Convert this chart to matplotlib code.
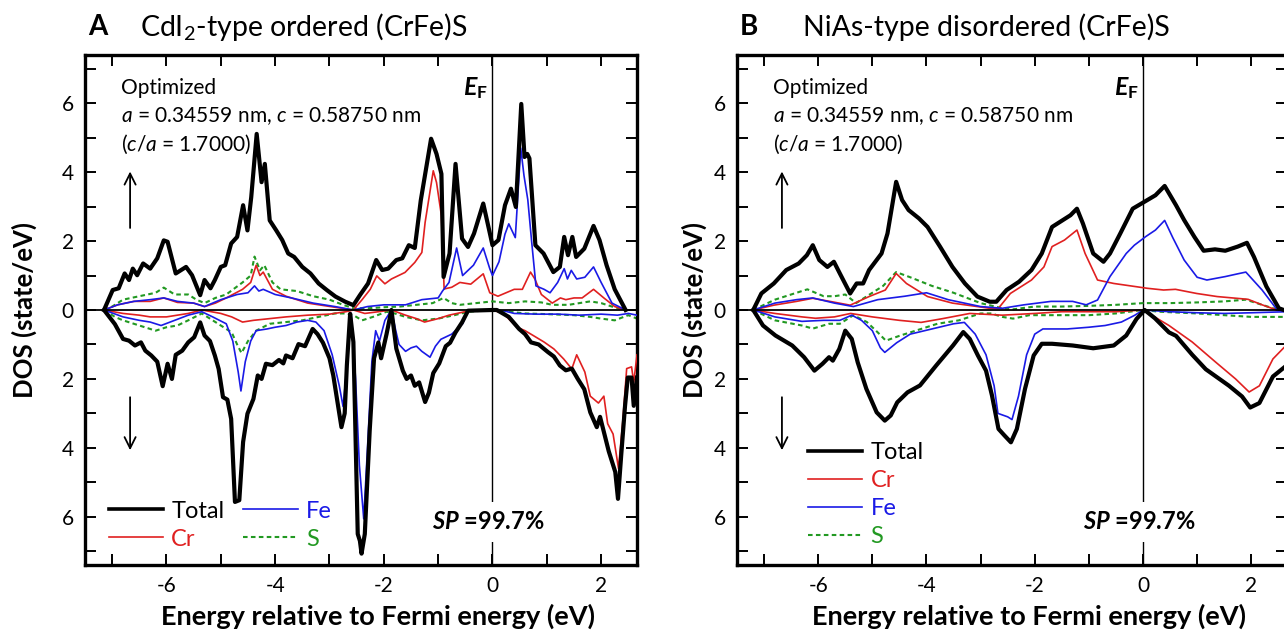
import matplotlib
matplotlib.use("Agg")
import matplotlib.pyplot as plt
from matplotlib.ticker import MultipleLocator, FixedLocator, FixedFormatter
from matplotlib.lines import Line2D

plt.rcParams['font.family'] = ['Lato', 'DejaVu Sans']
plt.rcParams['axes.unicode_minus'] = False
plt.rcParams['mathtext.fontset'] = 'custom'
plt.rcParams['mathtext.rm'] = 'Lato'
plt.rcParams['mathtext.it'] = 'Lato:italic'
plt.rcParams['mathtext.bf'] = 'Lato:bold'
try:
    plt.rcParams['mathtext.bfit'] = 'Lato:italic:bold'
    HAS_BFIT = True
except Exception:
    HAS_BFIT = False

# ---------------- Panel A: CdI2-type ordered (CrFe)S ----------------
A_tot_up_E = [-7.15, -6.99, -6.88, -6.77, -6.69, -6.62, -6.54, -6.43, -6.3, -6.17, -6.05, -5.98, -5.83, -5.64, -5.53, -5.38, -5.3, -5.19, -5.11, -5.0, -4.92, -4.81, -4.7, -4.59, -4.51, -4.44, -4.34, -4.25, -4.19, -4.1, -3.98, -3.87, -3.76, -3.65, -3.5, -3.35, -3.2, -3.05, -2.89, -2.71, -2.56, -2.44, -2.29, -2.14, -2.03, -1.92, -1.77, -1.66, -1.54, -1.43, -1.32, -1.13, -1.03, -0.94, -0.9, -0.79, -0.68, -0.56, -0.45, -0.34, -0.17, -0.06, 0.0, 0.11, 0.23, 0.34, 0.43, 0.53, 0.59, 0.64, 0.68, 0.79, 0.94, 1.12, 1.24, 1.32, 1.39, 1.47, 1.54, 1.69, 1.86, 1.97, 2.1, 2.25, 2.45]
A_tot_up = [0, 0.58, 0.63, 1.06, 0.87, 1.2, 1.01, 1.35, 1.2, 1.5, 2.02, 1.98, 1.06, 1.25, 1.01, 0.43, 0.87, 0.63, 0.87, 1.25, 1.3, 1.93, 2.12, 3.04, 2.31, 3.28, 5.11, 3.71, 4.24, 2.6, 2.31, 2.03, 1.64, 1.54, 1.25, 1.06, 0.77, 0.58, 0.39, 0.24, 0.14, 0.43, 0.77, 1.45, 1.16, 1.2, 1.45, 1.5, 1.88, 1.8, 3.18, 4.97, 4.53, 3.95, 0.96, 1.64, 4.24, 2.07, 1.83, 2.22, 3.09, 2.31, 1.88, 2.03, 3.04, 3.52, 2.99, 5.98, 4.44, 4.53, 4.4, 1.88, 1.64, 1.1, 1.25, 2.12, 1.59, 2.12, 1.54, 1.78, 2.44, 2.03, 1.3, 0.6, 0.0]

A_cr_up_E = [-7.15, -6.9, -6.6, -6.3, -6.05, -5.8, -5.5, -5.3, -5.1, -4.9, -4.6, -4.45, -4.35, -4.28, -4.22, -4.05, -3.8, -3.4, -2.9, -2.56, -2.4, -2.25, -2.13, -1.98, -1.86, -1.61, -1.43, -1.3, -1.24, -1.09, -1.03, -0.94, -0.89, -0.75, -0.6, -0.4, -0.17, -0.05, 0.1, 0.25, 0.4, 0.55, 0.7, 0.78, 0.9, 1.1, 1.25, 1.35, 1.5, 1.65, 1.86, 2.05, 2.25, 2.45]
A_cr_up = [0, 0.15, 0.25, 0.25, 0.35, 0.22, 0.2, 0.1, 0.2, 0.35, 0.6, 0.8, 1.3, 1.0, 1.1, 0.6, 0.4, 0.2, 0.08, 0.0, 0.3, 0.6, 0.99, 0.76, 0.9, 1.09, 1.38, 1.67, 2.54, 4.04, 3.7, 2.74, 0.61, 0.66, 0.8, 0.75, 1.05, 0.5, 0.4, 0.5, 0.6, 0.6, 1.1, 0.9, 0.45, 0.2, 0.35, 0.3, 0.35, 0.35, 0.6, 0.35, 0.1, 0.0]

A_fe_up_E = [-7.15, -6.9, -6.6, -6.3, -6.05, -5.8, -5.5, -5.3, -5.0, -4.7, -4.5, -4.38, -4.3, -4.22, -4.0, -3.7, -3.3, -2.9, -2.56, -2.3, -2.0, -1.6, -1.3, -1.0, -0.92, -0.8, -0.66, -0.55, -0.35, -0.17, -0.05, 0.0, 0.12, 0.23, 0.3, 0.42, 0.52, 0.58, 0.65, 0.72, 0.8, 0.95, 1.06, 1.2, 1.32, 1.38, 1.45, 1.55, 1.7, 1.86, 2.0, 2.2, 2.45]
A_fe_up = [0, 0.15, 0.25, 0.3, 0.35, 0.25, 0.2, 0.1, 0.3, 0.45, 0.5, 0.7, 0.55, 0.6, 0.45, 0.35, 0.2, 0.1, 0.0, 0.1, 0.15, 0.15, 0.3, 0.35, 0.55, 0.8, 1.8, 1.0, 1.3, 1.8, 1.2, 1.0, 1.4, 2.2, 2.5, 2.1, 4.7, 3.9, 3.2, 2.0, 0.7, 0.6, 0.5, 0.8, 1.2, 0.9, 1.15, 0.9, 0.95, 1.25, 0.8, 0.2, 0.0]

A_s_up_E = [-7.15, -7.0, -6.8, -6.5, -6.2, -6.05, -5.85, -5.6, -5.45, -5.3, -5.1, -4.9, -4.6, -4.45, -4.38, -4.28, -4.2, -4.05, -3.9, -3.6, -3.3, -3.0, -2.75, -2.56, -2.3, -2.0, -1.7, -1.4, -1.1, -0.9, -0.75, -0.6, -0.3, 0.0, 0.3, 0.6, 0.9, 1.1, 1.4, 1.8, 2.0, 2.2, 2.45]
A_s_up = [0, 0.1, 0.3, 0.4, 0.5, 0.65, 0.45, 0.45, 0.3, 0.2, 0.35, 0.45, 0.8, 1.0, 1.55, 1.15, 1.3, 0.8, 0.6, 0.55, 0.4, 0.3, 0.15, 0.05, 0.05, 0.08, 0.1, 0.15, 0.2, 0.35, 0.2, 0.15, 0.2, 0.25, 0.2, 0.25, 0.22, 0.15, 0.15, 0.25, 0.2, 0.1, 0.0]

A_tot_dn_E = [-7.15, -6.95, -6.8, -6.69, -6.58, -6.47, -6.39, -6.28, -6.17, -6.07, -5.98, -5.9, -5.83, -5.71, -5.6, -5.49, -5.38, -5.3, -5.2, -5.11, -5.04, -4.96, -4.88, -4.81, -4.74, -4.66, -4.59, -4.51, -4.4, -4.32, -4.25, -4.17, -4.05, -3.93, -3.85, -3.8, -3.68, -3.57, -3.45, -3.31, -3.22, -3.12, -3.0, -2.93, -2.86, -2.78, -2.72, -2.68, -2.62, -2.56, -2.48, -2.44, -2.41, -2.35, -2.26, -2.18, -2.1, -2.05, -1.95, -1.86, -1.77, -1.65, -1.58, -1.5, -1.43, -1.35, -1.24, -1.17, -1.09, -0.98, -0.86, -0.78, -0.68, -0.56, -0.45, 0.0, 0.08, 0.3, 0.49, 0.6, 0.71, 0.85, 1.02, 1.13, 1.24, 1.35, 1.46, 1.57, 1.69, 1.8, 1.92, 1.98, 2.06, 2.14, 2.26, 2.31, 2.37, 2.44, 2.49, 2.56, 2.6, 2.66]
A_tot_dn = [0, 0.41, 0.84, 0.89, 1.03, 0.94, 1.18, 1.32, 1.5, 2.21, 1.56, 2.0, 1.3, 1.18, 0.94, 0.79, 0.36, 0.74, 0.9, 1.32, 1.71, 2.53, 2.6, 3.16, 5.57, 5.52, 3.83, 3.01, 2.58, 1.9, 2.0, 1.56, 1.6, 1.45, 1.55, 1.32, 1.4, 0.99, 1.05, 0.55, 0.7, 0.95, 1.4, 1.9, 2.6, 3.4, 3.0, 1.6, 0.11, 0.93, 6.5, 6.7, 7.07, 6.5, 3.5, 1.4, 0.94, 1.4, 0.7, 0.0, 1.12, 1.76, 2.0, 1.9, 2.2, 2.1, 2.67, 2.4, 1.83, 1.55, 1.05, 0.95, 0.65, 0.36, 0.02, 0.0, 0.0, 0.2, 0.55, 0.7, 0.94, 1.0, 1.22, 1.35, 1.61, 1.75, 1.7, 2.0, 2.3, 2.97, 3.4, 3.1, 3.6, 4.1, 4.7, 5.48, 4.2, 2.78, 1.96, 1.96, 2.78, 1.96]

A_cr_dn_E = [-7.15, -6.8, -6.5, -6.3, -6.0, -5.8, -5.6, -5.35, -5.0, -4.8, -4.6, -4.4, -4.1, -3.8, -3.4, -3.0, -2.7, -2.56, -2.35, -2.1, -1.86, -1.6, -1.4, -1.25, -1.0, -0.8, -0.45, 0.0, 0.2, 0.45, 0.6, 0.76, 0.95, 1.13, 1.31, 1.46, 1.55, 1.7, 1.8, 1.95, 2.05, 2.12, 2.22, 2.32, 2.4, 2.47, 2.56, 2.6, 2.66]
A_cr_dn = [0, 0.1, 0.15, 0.2, 0.2, 0.15, 0.1, 0.0, 0.1, 0.2, 0.35, 0.3, 0.25, 0.2, 0.15, 0.12, 0.05, 0.0, 0.1, 0.05, 0.0, 0.15, 0.25, 0.35, 0.25, 0.15, 0.03, 0.0, 0.1, 0.5, 0.6, 0.75, 0.93, 1.13, 1.42, 1.71, 1.3, 1.8, 2.5, 2.7, 2.5, 3.3, 3.6, 4.6, 3.2, 1.7, 1.65, 2.1, 1.3]

A_fe_dn_E = [-7.15, -6.8, -6.5, -6.3, -6.1, -5.85, -5.6, -5.35, -5.15, -4.9, -4.78, -4.68, -4.63, -4.55, -4.45, -4.35, -4.15, -4.0, -3.8, -3.6, -3.4, -3.25, -3.1, -2.95, -2.82, -2.75, -2.7, -2.64, -2.6, -2.52, -2.45, -2.37, -2.3, -2.22, -2.15, -2.08, -1.98, -1.86, -1.78, -1.72, -1.6, -1.5, -1.4, -1.3, -1.15, -1.05, -0.95, -0.75, -0.55, -0.45, 0.0, 0.2, 0.4, 0.8, 1.2, 1.6, 2.0, 2.3, 2.5, 2.66]
A_fe_dn = [0, 0.2, 0.3, 0.35, 0.45, 0.3, 0.15, 0.05, 0.2, 0.4, 0.9, 1.8, 2.35, 1.5, 0.9, 0.6, 0.55, 0.5, 0.45, 0.35, 0.3, 0.35, 0.6, 1.3, 2.2, 2.8, 2.0, 0.5, 0.1, 2.0, 4.5, 6.06, 4.0, 1.5, 0.6, 0.9, 0.3, 0.0, 0.6, 1.0, 1.2, 1.1, 1.05, 1.2, 1.37, 1.05, 0.85, 0.7, 0.4, 0.0, 0.0, 0.02, 0.1, 0.12, 0.12, 0.15, 0.12, 0.15, 0.1, 0.15]

A_s_dn_E = [-7.15, -6.95, -6.8, -6.5, -6.2, -6.0, -5.8, -5.6, -5.35, -5.15, -4.95, -4.8, -4.7, -4.62, -4.5, -4.35, -4.1, -3.8, -3.5, -3.2, -2.9, -2.7, -2.56, -2.4, -2.2, -1.95, -1.8, -1.6, -1.3, -1.0, -0.7, -0.45, 0.0, 0.3, 0.6, 1.0, 1.5, 1.8, 2.0, 2.25, 2.5, 2.66]
A_s_dn = [0, 0.2, 0.3, 0.45, 0.6, 0.5, 0.45, 0.3, 0.1, 0.3, 0.5, 0.65, 1.0, 1.25, 0.9, 0.6, 0.4, 0.35, 0.3, 0.2, 0.1, 0.1, 0.15, 0.3, 0.2, 0.05, 0.1, 0.2, 0.3, 0.25, 0.15, 0.05, 0.0, 0.05, 0.1, 0.12, 0.15, 0.2, 0.25, 0.3, 0.15, 0.25]

# ---------------- Panel B: NiAs-type disordered (CrFe)S ----------------
B_tot_up_E = [-7.2, -7.05, -6.82, -6.59, -6.36, -6.21, -6.1, -5.98, -5.83, -5.71, -5.6, -5.41, -5.29, -5.17, -5.06, -4.83, -4.72, -4.56, -4.45, -4.33, -4.14, -3.98, -3.75, -3.52, -3.29, -3.06, -2.83, -2.71, -2.52, -2.29, -2.06, -1.87, -1.68, -1.49, -1.34, -1.22, -1.11, -0.92, -0.73, -0.61, -0.42, -0.19, 0.08, 0.23, 0.4, 0.61, 0.76, 0.95, 1.12, 1.33, 1.52, 1.75, 1.92, 2.05, 2.28, 2.51, 2.6]
B_tot_up = [0, 0.48, 0.77, 1.16, 1.35, 1.59, 1.88, 1.45, 1.25, 1.4, 1.06, 0.48, 0.77, 0.77, 1.16, 1.64, 2.22, 3.72, 3.19, 2.9, 2.66, 2.41, 1.84, 1.25, 0.77, 0.39, 0.24, 0.24, 0.58, 0.82, 1.16, 1.64, 2.41, 2.6, 2.75, 2.94, 2.51, 1.64, 1.4, 1.64, 2.22, 2.94, 3.19, 3.33, 3.6, 3.04, 2.61, 2.12, 1.72, 1.76, 1.72, 1.84, 1.95, 1.54, 0.68, 0.05, 0.0]

B_cr_up_E = [-7.2, -6.82, -6.4, -6.1, -5.75, -5.41, -5.06, -4.76, -4.56, -4.37, -3.98, -3.52, -2.83, -2.67, -2.45, -2.06, -1.83, -1.68, -1.45, -1.22, -1.07, -0.84, -0.54, 0.08, 0.38, 0.6, 0.99, 1.37, 1.94, 2.2, 2.47]
B_cr_up = [0, 0.14, 0.25, 0.34, 0.24, 0.14, 0.39, 0.58, 1.06, 0.77, 0.39, 0.2, 0.05, 0.05, 0.48, 0.87, 1.25, 1.84, 2.03, 2.32, 1.64, 0.87, 0.77, 0.63, 0.58, 0.6, 0.48, 0.39, 0.31, 0.15, 0.0]

B_fe_up_E = [-7.2, -6.8, -6.4, -6.1, -5.7, -5.35, -4.9, -4.4, -4.0, -3.6, -3.0, -2.6, -2.2, -1.7, -1.3, -1.05, -0.84, -0.61, -0.31, -0.16, 0.05, 0.23, 0.4, 0.55, 0.76, 1.0, 1.18, 1.52, 1.75, 1.9, 2.2, 2.48]
B_fe_up = [0, 0.2, 0.3, 0.35, 0.2, 0.1, 0.3, 0.4, 0.5, 0.3, 0.1, 0.05, 0.15, 0.25, 0.25, 0.15, 0.29, 0.97, 1.64, 1.88, 2.13, 2.32, 2.6, 2.1, 1.45, 0.95, 0.87, 0.97, 1.05, 1.1, 0.58, 0.0]

B_s_up_E = [-7.2, -6.8, -6.5, -6.2, -5.9, -5.7, -5.5, -5.3, -5.0, -4.8, -4.56, -4.3, -3.9, -3.5, -3.0, -2.6, -2.4, -2.0, -1.5, -1.0, -0.5, 0.0, 0.5, 1.0, 1.5, 1.9, 2.3, 2.5]
B_s_up = [0, 0.3, 0.45, 0.6, 0.4, 0.4, 0.45, 0.2, 0.5, 0.7, 1.1, 0.95, 0.7, 0.5, 0.2, 0.05, 0.02, 0.1, 0.1, 0.12, 0.15, 0.2, 0.2, 0.22, 0.25, 0.3, 0.1, 0.0]

B_tot_dn_E = [-7.2, -7.02, -6.79, -6.48, -6.26, -6.07, -5.92, -5.8, -5.73, -5.61, -5.5, -5.38, -5.27, -5.11, -4.92, -4.77, -4.66, -4.54, -4.35, -4.12, -3.82, -3.51, -3.32, -3.2, -3.05, -2.9, -2.79, -2.67, -2.56, -2.44, -2.33, -2.18, -2.02, -1.87, -1.68, -1.3, -0.92, -0.54, -0.31, -0.12, 0.03, 0.22, 0.48, 0.61, 0.91, 1.16, 1.59, 1.83, 1.98, 2.15, 2.4, 2.66]
B_tot_dn = [0, 0.45, 0.74, 1.03, 1.37, 1.76, 1.56, 1.37, 1.47, 1.13, 0.6, 0.84, 1.52, 2.29, 2.97, 3.21, 3.06, 2.68, 2.39, 2.19, 1.61, 1.03, 0.64, 0.84, 1.32, 1.76, 2.48, 3.45, 3.64, 3.84, 3.45, 2.29, 1.32, 0.98, 0.98, 1.03, 1.11, 1.03, 0.74, 0.26, 0.0, 0.24, 0.65, 0.75, 1.3, 1.72, 2.2, 2.51, 2.83, 2.7, 1.93, 1.6]

B_cr_dn_E = [-7.2, -6.8, -6.3, -6.05, -5.7, -5.4, -5.0, -4.5, -4.1, -3.7, -3.2, -2.6, -2.0, -1.5, -1.0, -0.5, 0.0, 0.48, 0.91, 1.34, 1.71, 1.96, 2.15, 2.4, 2.66]
B_cr_dn = [0, 0.1, 0.2, 0.24, 0.2, 0.1, 0.2, 0.3, 0.36, 0.25, 0.1, 0.15, 0.1, 0.05, 0.05, 0.05, 0.0, 0.45, 0.93, 1.51, 2.0, 2.38, 2.2, 1.42, 1.0]

B_fe_dn_E = [-7.2, -6.8, -6.3, -5.9, -5.6, -5.38, -5.2, -5.0, -4.85, -4.77, -4.55, -4.3, -3.9, -3.5, -3.3, -3.1, -2.9, -2.75, -2.68, -2.5, -2.42, -2.3, -2.15, -2.0, -1.85, -1.4, -1.0, -0.7, -0.4, -0.15, 0.0, 0.5, 1.0, 1.5, 2.0, 2.66]
B_fe_dn = [0, 0.2, 0.33, 0.3, 0.3, 0.15, 0.3, 0.6, 1.1, 1.23, 0.95, 0.7, 0.55, 0.4, 0.36, 0.7, 1.3, 2.2, 3.0, 3.1, 3.18, 2.5, 1.3, 0.7, 0.55, 0.55, 0.5, 0.45, 0.35, 0.15, 0.0, 0.05, 0.08, 0.1, 0.08, 0.05]

B_s_dn_E = [-7.2, -6.8, -6.3, -6.1, -5.8, -5.6, -5.35, -5.1, -4.9, -4.75, -4.5, -4.2, -3.8, -3.4, -3.0, -2.8, -2.6, -2.4, -2.1, -1.5, -1.0, -0.5, 0.0, 0.3, 1.0, 1.5, 2.0, 2.66]
B_s_dn = [0, 0.3, 0.45, 0.54, 0.4, 0.4, 0.15, 0.35, 0.65, 0.89, 0.75, 0.6, 0.4, 0.3, 0.1, 0.1, 0.2, 0.25, 0.15, 0.15, 0.15, 0.1, 0.0, 0.05, 0.1, 0.15, 0.2, 0.2]

legend_labels = ['Total', 'Cr', 'Fe', 'S']
titles = [('A', 'CdI$_2$-type ordered (CrFe)S'), ('B', 'NiAs-type disordered (CrFe)S')]
y_tick_values = [-6, -4, -2, 0, 2, 4, 6]
x_tick_values = [-6, -4, -2, 0, 2]

RED = '#e02020'
BLUE = '#1a1ae6'
GREEN = '#229922'
BLACK = '#000000'

W, H = 1284, 631
fig = plt.figure(figsize=(W / 100, H / 100), dpi=100)

def fx(px):
    return px / W

def fy(py):
    return 1 - py / H

axA = fig.add_axes([fx(85), fy(565), fx(552), (565 - 55) / H])
axB = fig.add_axes([fx(737), fy(565), fx(550), (565 - 55) / H])

panels = [
    (axA, titles[0], 0.10, -0.087,
     (A_tot_up_E, A_tot_up), (A_cr_up_E, A_cr_up), (A_fe_up_E, A_fe_up), (A_s_up_E, A_s_up),
     (A_tot_dn_E, A_tot_dn), (A_cr_dn_E, A_cr_dn), (A_fe_dn_E, A_fe_dn), (A_s_dn_E, A_s_dn)),
    (axB, titles[1], 0.12, -0.055,
     (B_tot_up_E, B_tot_up), (B_cr_up_E, B_cr_up), (B_fe_up_E, B_fe_up), (B_s_up_E, B_s_up),
     (B_tot_dn_E, B_tot_dn), (B_cr_dn_E, B_cr_dn), (B_fe_dn_E, B_fe_dn), (B_s_dn_E, B_s_dn)),
]

styles = [dict(color=BLACK, lw=3.0, zorder=4),
          dict(color=RED, lw=1.2, zorder=3),
          dict(color=BLUE, lw=1.2, zorder=3),
          dict(color=GREEN, lw=1.5, ls=(0, (2.2, 1.6)), zorder=2)]

for idx, (ax, (letter, title), tx, ylx, *series) in enumerate(panels):
    ups = series[:4]
    dns = series[4:]
    ax.axhline(0, color='black', lw=1.3, zorder=5)
    ax.axvline(0, color='black', lw=1.0, zorder=1)
    for (e, d), st in zip(ups, styles):
        ax.plot(e, d, solid_joinstyle='round', **st)
    for (e, d), st in zip(dns, styles):
        ax.plot(e, [-v for v in d], solid_joinstyle='round', **st)

    ax.set_xlim(-7.5, 2.66)
    ax.set_ylim(-7.4, 7.4)
    ax.xaxis.set_major_locator(FixedLocator(x_tick_values))
    ax.xaxis.set_minor_locator(MultipleLocator(1))
    ax.yaxis.set_major_locator(FixedLocator(y_tick_values))
    ax.yaxis.set_major_formatter(FixedFormatter([str(abs(v)) for v in y_tick_values]))
    ax.yaxis.set_minor_locator(MultipleLocator(1))
    ax.tick_params(which='both', direction='in', top=True, right=True,
                   length=8, width=1.4, labelsize=15, pad=8)
    for sp in ax.spines.values():
        sp.set_linewidth(2.4)
    ax.set_xlabel('Energy relative to Fermi energy (eV)', fontsize=19.5,
                  fontweight='bold')
    ax.set_ylabel('DOS (state/eV)', fontsize=18.5, fontweight='bold')
    ax.xaxis.set_label_coords(0.53, -0.076)
    ax.yaxis.set_label_coords(ylx, 0.5)

    # title
    ax.text(0.005, 1.055, letter, transform=ax.transAxes, fontsize=20,
            fontweight='bold', ha='left', va='center')
    ax.text(tx, 1.055, title, transform=ax.transAxes, fontsize=20.5,
            ha='left', va='center')

    # parameter text
    ax.text(-6.83, 6.45, 'Optimized', fontsize=15, va='center', ha='left')
    ax.text(-6.83, 5.62, r'$\mathit{a}$ = 0.34559 nm, $\mathit{c}$ = 0.58750 nm',
            fontsize=15, va='center', ha='left')
    ax.text(-6.83, 4.82, r'($\mathit{c/a}$ = 1.7000)', fontsize=15, va='center', ha='left')

    # E_F label
    if HAS_BFIT:
        ax.text(-0.08, 6.45, r'$\mathbfit{E}_{\mathbf{F}}$', fontsize=18,
                ha='right', va='center')
    else:
        ax.text(-0.08, 6.45, 'E', fontsize=18, fontweight='bold', style='italic',
                ha='right', va='center')

    # SP text
    ax.text(-0.07, -6.15, r'$\mathbfit{SP}$ =99.7%' if HAS_BFIT else 'SP =99.7%',
            fontsize=17, fontweight='bold', ha='center', va='center', zorder=6,
            bbox=dict(facecolor='white', edgecolor='none', pad=6))

    # spin arrows
    ax.annotate('', xy=(-6.67, 4.1), xytext=(-6.67, 2.3),
                arrowprops=dict(arrowstyle='->', lw=1.3, color='black',
                                mutation_scale=20))
    ax.annotate('', xy=(-6.67, -4.15), xytext=(-6.67, -2.45),
                arrowprops=dict(arrowstyle='->', lw=1.3, color='black',
                                mutation_scale=20))

    handles = [Line2D([], [], **{k: v for k, v in st.items() if k != 'zorder'})
               for st in styles]
    handles[0].set_linewidth(2.6)
    if idx == 0:
        leg = ax.legend(handles, legend_labels, loc='lower left',
                        bbox_to_anchor=(0.043, 0.03), ncol=2, frameon=False,
                        fontsize=17, handlelength=2.3, handletextpad=0.35,
                        labelspacing=0.3, columnspacing=0.8,
                        borderpad=0, borderaxespad=0)
    else:
        leg = ax.legend(handles, legend_labels, loc='lower left',
                        bbox_to_anchor=(0.129, 0.035), ncol=1, frameon=False,
                        fontsize=17, handlelength=2.3, handletextpad=0.35,
                        labelspacing=0.3, borderpad=0, borderaxespad=0)
    for txt, col in zip(leg.get_texts(), [BLACK, RED, BLUE, GREEN]):
        txt.set_color(col)

fig.savefig('out.png', dpi=100)
